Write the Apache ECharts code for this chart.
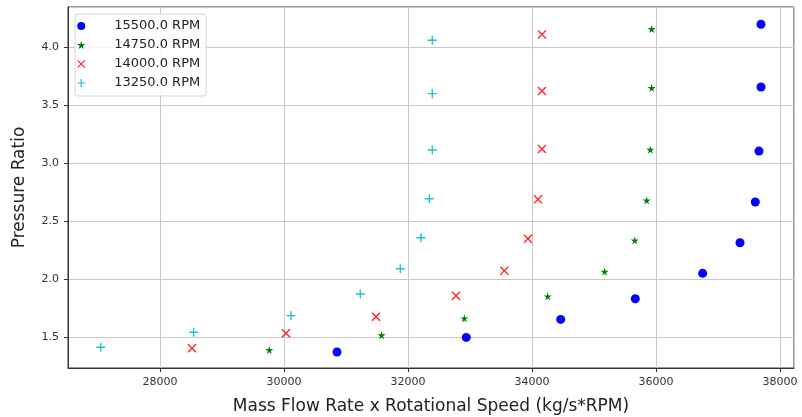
<!DOCTYPE html>
<html>
<head>
<meta charset="utf-8">
<script src="https://cdn.jsdelivr.net/npm/echarts@6/dist/echarts.min.js"></script>
<style>
  html, body { margin: 0; padding: 0; background: #fff; }
  #chart { width: 802px; height: 417px; }
</style>
</head>
<body>
<div id="chart"></div>
<script>
// speed lines
var rpmNames = ['15500.0 RPM', '14750.0 RPM', '14000.0 RPM', '13250.0 RPM'];

var flow15500 = [37694, 37694, 37661, 37602, 37355, 36753, 35666, 34463, 32940, 30855];
var pr15500   = [4.196, 3.655, 3.103, 2.664, 2.313, 2.049, 1.830, 1.652, 1.497, 1.371];

var flow14750 = [35930, 35930, 35908, 35850, 35656, 35172, 34253, 32909, 31575, 29763];
var pr14750   = [4.155, 3.647, 3.115, 2.678, 2.333, 2.063, 1.851, 1.661, 1.515, 1.388];

var flow14000 = [34161, 34161, 34161, 34097, 33935, 33554, 32774, 31484, 30032, 28516];
var pr14000   = [4.109, 3.621, 3.121, 2.687, 2.347, 2.072, 1.856, 1.675, 1.532, 1.403];

var flow13250 = [32392, 32392, 32392, 32344, 32210, 31876, 31231, 30113, 28543, 27044];
var pr13250   = [4.058, 3.598, 3.112, 2.692, 2.356, 2.089, 1.871, 1.684, 1.541, 1.412];

var STAR = 'path://M50,0L61,35L98,35L68,57L79,91L50,70L21,91L32,57L2,35L39,35Z';
var PLUS = 'path://M4.25,0H5.75V4.25H10V5.75H5.75V10H4.25V5.75H0V4.25H4.25Z';
var CROSS = 'path://M0,1.05L1.05,0L5,3.95L8.95,0L10,1.05L6.05,5L10,8.95L8.95,10L5,6.05L1.05,10L0,8.95L3.95,5Z';

function pairs(xs, ys) {
    return xs.map(function (x, i) { return [x, ys[i]]; });
}

var myChart = echarts.init(document.getElementById('chart'), null, { renderer: 'canvas' });

var font = 'DejaVu Sans';

var option = {
    animation: false,
    textStyle: { fontFamily: font },
    grid: {
        left: 68, right: 8, top: 7, bottom: 49,
        outerBoundsMode: 'none',
        containLabel: false,
        show: true,
        borderColor: '#333',
        borderWidth: 1
    },
    legend: {
        left: 75,
        top: 14,
        orient: 'vertical',
        padding: [5, 6, 6, 2],
        itemWidth: 30,
        itemHeight: 8,
        itemGap: 5,
        backgroundColor: 'rgba(255,255,255,0.85)',
        borderColor: '#d6d6d6',
        borderWidth: 1,
        borderRadius: 3,
        textStyle: {
            fontFamily: font,
            fontSize: 13,
            color: '#222',
            lineHeight: 14,
            padding: [0, 0, 0, 13]
        },
        data: rpmNames
    },
    xAxis: {
        type: 'value',
        min: 26516,
        max: 38226,
        splitNumber: 6,
        name: 'Mass Flow Rate x Rotational Speed (kg/s*RPM)',
        nameLocation: 'middle',
        nameGap: 30,
        nameTextStyle: { fontFamily: font, fontSize: 17, color: '#222' },
        axisLine: { show: true, lineStyle: { color: '#333' } },
        axisTick: { show: true, inside: false, length: 4, lineStyle: { color: '#333' } },
        axisLabel: {
            showMinLabel: false,
            showMaxLabel: false,
            fontFamily: font,
            fontSize: 11,
            color: '#333',
            margin: 9,
            formatter: function (v) { return String(v); }
        },
        splitLine: { show: true, lineStyle: { color: '#c8c8c8', width: 1 } }
    },
    yAxis: {
        type: 'value',
        min: 1.233,
        max: 4.345,
        splitNumber: 6,
        name: 'Pressure Ratio',
        nameLocation: 'middle',
        nameGap: 40,
        nameTextStyle: { fontFamily: font, fontSize: 17, color: '#222' },
        axisLine: { show: true, lineStyle: { color: '#333' } },
        axisTick: { show: true, inside: false, length: 4, lineStyle: { color: '#333' } },
        axisLabel: {
            showMinLabel: false,
            showMaxLabel: false,
            fontFamily: font,
            fontSize: 11,
            color: '#333',
            margin: 9,
            formatter: function (v) { return v.toFixed(1); }
        },
        splitLine: { show: true, lineStyle: { color: '#c8c8c8', width: 1 } }
    },
    series: [
        {
            name: rpmNames[0], type: 'scatter',
            symbol: 'circle', symbolSize: 9,
            itemStyle: { color: '#0000ff', opacity: 1 },
            data: pairs(flow15500, pr15500)
        },
        {
            name: rpmNames[1], type: 'scatter',
            symbol: STAR, symbolSize: 8,
            itemStyle: { color: '#008000', opacity: 1 },
            data: pairs(flow14750, pr14750)
        },
        {
            name: rpmNames[2], type: 'scatter',
            symbol: CROSS, symbolSize: 9,
            itemStyle: { color: '#ff2020', opacity: 1 },
            data: pairs(flow14000, pr14000)
        },
        {
            name: rpmNames[3], type: 'scatter',
            symbol: PLUS, symbolSize: 9,
            itemStyle: { color: '#1fc4c8', opacity: 1 },
            data: pairs(flow13250, pr13250)
        }
    ]
};

myChart.setOption(option);
</script>
</body>
</html>
